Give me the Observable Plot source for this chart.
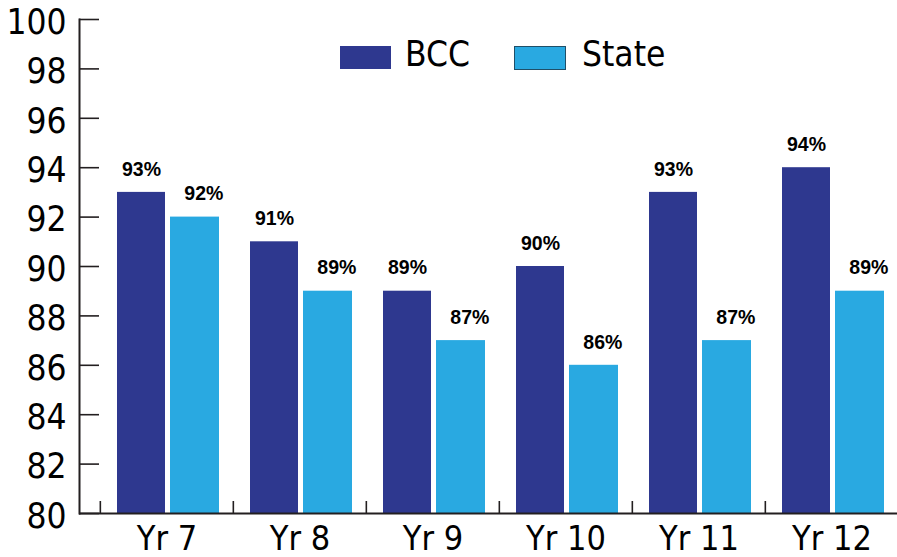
<!DOCTYPE html>
<html>
<head>
<meta charset="utf-8">
<script src="https://cdn.jsdelivr.net/npm/d3@7"></script>
<script src="https://cdn.jsdelivr.net/npm/@observablehq/plot@0.6"></script>
<style>
  body { margin: 0; background: #fff; }
  #wrap { position: relative; width: 897px; height: 557px; }
  #legend { position: absolute; left: 0; top: 0; width: 897px; height: 80px; pointer-events: none;
            font-family: 'DejaVu Sans Condensed', 'DejaVu Sans', sans-serif; font-size: 35px; color: #000; }
  .sw { position: absolute; top: 46px; width: 51px; height: 23px; box-sizing: border-box; }
  .lb { position: absolute; top: 34px; line-height: 40px; }
</style>
</head>
<body>
<div id="wrap">
  <div id="chart"></div>
  <div id="legend"></div>
</div>
<script>
const years = ["Yr 7", "Yr 8", "Yr 9", "Yr 10", "Yr 11", "Yr 12"];
const bcc = [93, 91, 89, 90, 93, 94];
const state = [92, 89, 87, 86, 87, 89];
const seriesNames = ["BCC", "State"];
const seriesColors = ["#2E388F", "#29A9E1"];
const yTicks = [80, 82, 84, 86, 88, 90, 92, 94, 96, 98, 100];

const bccData = years.map((y, i) => ({year: y, series: "BCC", value: bcc[i]}));
const stateData = years.map((y, i) => ({year: y, series: "State", value: state[i]}));

const W = 897, H = 557;
const mL = 79, mR = 0, mT = 19, mB = 44;
const xStart = 99, xEnd = 899;
const band = (xEnd - xStart) / years.length;

const chart = Plot.plot({
  width: W, height: H,
  marginLeft: mL, marginRight: mR, marginTop: mT, marginBottom: mB,
  style: {fontFamily: "'DejaVu Sans Condensed', 'DejaVu Sans', sans-serif", background: "white", color: "#000", overflow: "visible"},
  x: {domain: years, range: [xStart, xEnd], padding: 0, label: null},
  y: {domain: [80, 100], label: null},
  marks: [
    Plot.barY(bccData, {x: "year", y1: 80, y2: "value", fill: seriesColors[0], insetLeft: 17, insetRight: 68}),
    Plot.barY(stateData, {x: "year", y1: 80, y2: "value", fill: seriesColors[1], insetLeft: 70, insetRight: 14}),
    Plot.text(bccData, {x: "year", y: "value", text: d => d.value + "%", dx: 41.2 - band / 2, dy: -23,
      fontFamily: "'Liberation Sans', Arial, sans-serif", fontWeight: "bold", fontSize: 19.5, fill: "#000"}),
    Plot.text(stateData, {x: "year", y: "value", text: d => d.value + "%", dx: 103.5 - band / 2, dy: -23,
      fontFamily: "'Liberation Sans', Arial, sans-serif", fontWeight: "bold", fontSize: 19.5, fill: "#000"}),
    Plot.axisY(yTicks, {tickSize: 0, tickPadding: 13, fontSize: 35, dy: 3, label: null, fill: "#000"}),
    Plot.axisX({tickSize: 0, tickPadding: 12, fontSize: 34, label: null, fill: "#000"}),
    Plot.ruleY(yTicks, {insetRight: W - mL - (xStart - mL) - mR, stroke: "#231f20", strokeWidth: 1.6}),
    Plot.ruleX(years, {x: d => d, dx: -band / 2, insetTop: (H - mB - mT) - 12, stroke: "#231f20", strokeWidth: 1.6}),
    Plot.ruleY([80], {stroke: "#231f20", strokeWidth: 2}),
    Plot.frame({anchor: "left", stroke: "#231f20", strokeWidth: 2})
  ]
});
document.getElementById("chart").appendChild(chart);

const legend = document.getElementById("legend");
const swLeft = [340, 514], lbLeft = [405, 582];
seriesNames.forEach((name, i) => {
  const sw = document.createElement("div");
  sw.className = "sw";
  sw.style.left = swLeft[i] + "px";
  sw.style.background = seriesColors[i];
  if (i === 1) { sw.style.border = "1px solid #1f4f68"; sw.style.height = "24px"; sw.style.width = "52px"; }
  legend.appendChild(sw);
  const lb = document.createElement("div");
  lb.className = "lb";
  lb.style.left = lbLeft[i] + "px";
  lb.textContent = name;
  legend.appendChild(lb);
});
</script>
</body>
</html>
